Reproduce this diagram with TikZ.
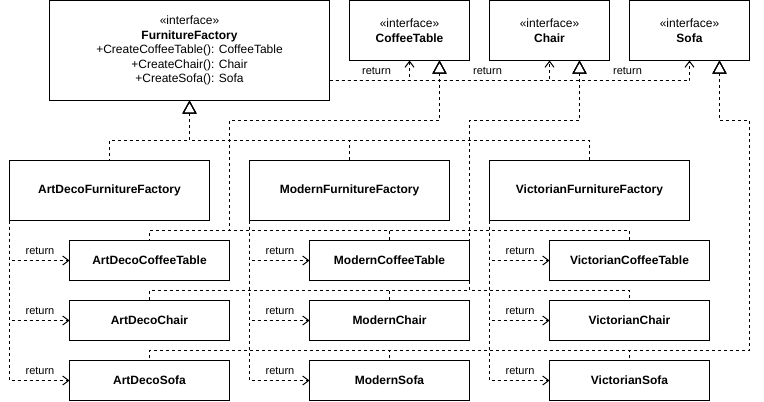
\documentclass[tikz,border=0pt]{standalone}
\usepackage{fontspec}
\setmainfont{Liberation Sans}
\usetikzlibrary{arrows.meta}
\tikzset{
  x=1pt, y=-1pt,
  box/.style={draw, line width=1pt, outer sep=0pt, inner sep=0pt, align=center,
    font=\fontsize{12pt}{14.5pt}\selectfont},
  prod/.style={box, minimum width=160pt, minimum height=40pt, font=\fontsize{12pt}{14.5pt}\selectfont\bfseries},
  fact/.style={box, minimum width=200pt, minimum height=60pt, font=\fontsize{12pt}{14.5pt}\selectfont\bfseries},
  iface/.style={box, minimum width=120pt, minimum height=60pt},
  dline/.style={line width=1pt, dash pattern=on 3pt off 3pt},
  real/.style={dline, {Triangle[open, length=13pt, width=14pt, line width=1pt]}-},
  ret/.style={dline, -{Straight Barb[length=6pt, width=9pt, line width=1pt]}},
  lbl/.style={font=\fontsize{11pt}{13pt}\selectfont, inner sep=0pt}
}
\begin{document}
\begin{tikzpicture}
\useasboundingbox (0,0) rectangle (764,402);
% interfaces
\node[box, minimum width=280pt, minimum height=100pt] (FF) at (189.5,50.5)
  {«interface»\\\textbf{FurnitureFactory}\\+CreateCoffeeTable(): CoffeeTable\\+CreateChair(): Chair\\+CreateSofa(): Sofa};
\node[iface] (CT) at (409.5,30.5) {«interface»\\\textbf{CoffeeTable}};
\node[iface] (CH) at (549.5,30.5) {«interface»\\\textbf{Chair}};
\node[iface] (SO) at (689.5,30.5) {«interface»\\\textbf{Sofa}};
% factories
\node[fact] (ADF) at (109.5,190.5) {ArtDecoFurnitureFactory};
\node[fact] (MF) at (349.5,190.5) {ModernFurnitureFactory};
\node[fact] (VF) at (589.5,190.5) {VictorianFurnitureFactory};
% products
\node[prod] (ADCT) at (149.5,260.5) {ArtDecoCoffeeTable};
\node[prod] (MCT) at (389.5,260.5) {ModernCoffeeTable};
\node[prod] (VCT) at (629.5,260.5) {VictorianCoffeeTable};
\node[prod] (ADCH) at (149.5,320.5) {ArtDecoChair};
\node[prod] (MCH) at (389.5,320.5) {ModernChair};
\node[prod] (VCH) at (629.5,320.5) {VictorianChair};
\node[prod] (ADSO) at (149.5,380.5) {ArtDecoSofa};
\node[prod] (MSO) at (389.5,380.5) {ModernSofa};
\node[prod] (VSO) at (629.5,380.5) {VictorianSofa};
% junctions
\coordinate (jF) at (189.5,140.5);
\coordinate (jCT1) at (229.5,120.5);
\coordinate (jCT2) at (229.5,230.5);
\coordinate (jCH1) at (469.5,120.5);
\coordinate (jCH2) at (469.5,290.5);
\coordinate (jSO1) at (749.5,120.5);
\coordinate (jSO2) at (749.5,350.5);
% factory realizations
\draw[real] (FF.south) -- (jF) -| (ADF.north);
\draw[real] (FF.south) -- (jF) -| (MF.north);
\draw[real] (FF.south) -- (jF) -| (VF.north);
% coffee table realizations
\foreach \p in {ADCT,MCT,VCT}
  \draw[real] ([xshift=30pt]CT.south) |- (jCT1) -- (jCT2) -| (\p.north);
\foreach \p in {ADCH,MCH,VCH}
  \draw[real] ([xshift=30pt]CH.south) |- (jCH1) -- (jCH2) -| (\p.north);
\foreach \p in {ADSO,MSO,VSO}
  \draw[real] ([xshift=30pt]SO.south) |- (jSO1) -- (jSO2) -| (\p.north);
% interface returns
\draw[ret] ([yshift=-30pt]FF.east) -| (CT.south);
\draw[ret] ([yshift=-30pt]FF.east) -| (CH.south);
\draw[ret] ([yshift=-30pt]FF.east) -| (SO.south);
\node[lbl] (r1) at (376.5,71) {return};
\node[lbl] (r2) at (487.5,71) {return};
\node[lbl] (r3) at (627.5,71) {return};
% factory returns
\foreach \f/\a/\b/\c/\lx in {ADF/ADCT/ADCH/ADSO/40,MF/MCT/MCH/MSO/280,VF/VCT/VCH/VSO/520}{
  \draw[ret] (\f.south west) |- (\a.west);
  \draw[ret] (\f.south west) |- (\b.west);
  \draw[ret] (\f.south west) |- (\c.west);
  \node[lbl] at (\lx,251) {return};
  \node[lbl] at (\lx,311) {return};
  \node[lbl] at (\lx,371) {return};
}
\end{tikzpicture}
\end{document}
